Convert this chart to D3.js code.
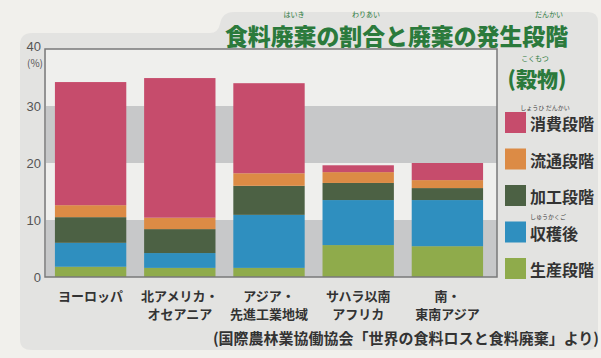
<!DOCTYPE html>
<html>
<head>
<meta charset="utf-8">
<script src="https://cdn.jsdelivr.net/npm/d3@7"></script>
<style>
  body { margin: 0; background: #f1f0ec; }
  svg { display: block; font-family: "Noto Sans CJK JP", "Noto Sans", sans-serif; }
</style>
</head>
<body>
<svg id="chart" width="601" height="358"></svg>
<script>
// 地域（2行ラベル）
var regions = [
  ["ヨーロッパ"],
  ["北アメリカ・", "オセアニア"],
  ["アジア・", "先進工業地域"],
  ["サハラ以南", "アフリカ"],
  ["南・", "東南アジア"]
];
// 段階（下から積む順）
var stages = ["生産段階", "収穫後", "加工段階", "流通段階", "消費段階"];
// 各段階の廃棄割合(%)
var production   = [1.8, 1.6, 1.6, 5.6, 5.4];
var postHarvest  = [4.2, 2.6, 9.3, 7.9, 8.1];
var processing   = [4.5, 4.2, 5.1, 3.0, 2.1];
var distribution = [2.1, 2.0, 2.2, 1.9, 1.4];
var consumption  = [21.6, 24.5, 15.8, 1.2, 3.0];
var yTicks = [0, 10, 20, 30, 40];

var stageColors = ["#8fab4b", "#2f8fbf", "#4c6144", "#dc8b45", "#c64c6c"];

var table = regions.map(function(r, i){
  return {
    key: i,
    "生産段階": production[i],
    "収穫後": postHarvest[i],
    "加工段階": processing[i],
    "流通段階": distribution[i],
    "消費段階": consumption[i]
  };
});

var svg = d3.select('#chart');
var margin = {top: 49, left: 46, bottom: 277, right: 497};

// 背景パネル（タイトルのタブ付き）
svg.append("path")
    .attr("d", "M20,340 L20,45 Q20,33 32,33 L210,33 Q218,33 220,24 Q222,12 234,12 L588,12 Q598,12 598,22 L598,340 Q598,350 588,350 L32,350 Q20,350 20,340 Z")
    .attr("fill", "#e3e3e1");

var x_scale = d3.scaleBand()
    .domain(d3.range(regions.length))
    .range([margin.left, 492])
    .paddingInner(0.2)
    .paddingOuter(0.1);

var y_scale = d3.scaleLinear()
    .domain([0, 40])
    .range([margin.bottom, margin.top]);

// 10%ごとの縞
svg.append("g").selectAll("rect")
    .data(d3.pairs(yTicks))
    .enter().append("rect")
    .attr("x", margin.left)
    .attr("width", margin.right - margin.left)
    .attr("y", function(d){ return y_scale(d[1]); })
    .attr("height", function(d){ return y_scale(d[0]) - y_scale(d[1]); })
    .attr("fill", function(d, i){ return i % 2 == 0 ? "#c7c8c9" : "#efefed"; });

var series = d3.stack().keys(stages)(table);

svg.append("g").selectAll("g")
    .data(series)
    .enter().append("g")
    .attr("fill", function(d, i){ return stageColors[i]; })
    .selectAll("rect")
    .data(function(d){ return d; })
    .enter().append("rect")
    .attr("x", function(d){ return x_scale(d.data.key); })
    .attr("width", x_scale.bandwidth())
    .attr("y", function(d){ return y_scale(d[1]); })
    .attr("height", function(d){ return y_scale(d[0]) - y_scale(d[1]); });

// 枠
svg.append("path")
    .attr("d", "M" + (margin.left - 1) + "," + margin.bottom + "V" + margin.top + "H" + margin.right + "V" + margin.bottom + "Z")
    .attr("fill", "none")
    .attr("stroke", "#7a7a7a")
    .attr("stroke-width", 1.5);

// 縦軸
var yAxis = svg.append("g")
    .attr("transform", "translate(" + (margin.left - 2) + ",0)")
    .call(d3.axisLeft(y_scale).tickValues(yTicks).tickSize(0).tickPadding(3));
yAxis.select(".domain").remove();
yAxis.selectAll("text")
    .attr("fill", "#555")
    .attr("font-size", 13)
    .attr("font-family", "'Liberation Sans Narrow', 'Liberation Sans', sans-serif");
// 40 は単位と重ならないよう少し上へ
yAxis.selectAll(".tick").filter(function(d){ return d == 40; })
    .select("text").attr("dy", "0.1em");

svg.append("text")
    .attr("x", margin.left - 3)
    .attr("y", 67)
    .attr("text-anchor", "end")
    .attr("fill", "#555")
    .attr("font-size", 10)
    .text("(%)");

// 横軸ラベル
var xl = svg.append("g").selectAll("text")
    .data(regions)
    .enter().append("text")
    .attr("x", function(d, i){ return x_scale(i) + x_scale.bandwidth() / 2; })
    .attr("y", 301)
    .attr("text-anchor", "middle")
    .attr("fill", "#333")
    .attr("font-size", 13)
    .attr("font-weight", 700);
xl.selectAll("tspan")
    .data(function(d){ return d; })
    .enter().append("tspan")
    .attr("x", function(){ return d3.select(this.parentNode).attr("x"); })
    .attr("dy", function(d, i){ return i == 0 ? 0 : 18; })
    .text(function(d){ return d; });

// 凡例（上から消費段階）
var legendItems = stages.slice().reverse();
var legend = svg.append("g").selectAll("g")
    .data(legendItems)
    .enter().append("g")
    .attr("transform", function(d, i){ return "translate(505," + (112 + i * 36.5) + ")"; });
legend.append("rect")
    .attr("width", 21)
    .attr("height", 21)
    .attr("fill", function(d){ return stageColors[stages.indexOf(d)]; });
legend.append("text")
    .attr("x", 25)
    .attr("y", 11)
    .attr("dominant-baseline", "central")
    .attr("fill", "#333")
    .attr("font-size", 16)
    .attr("font-weight", 700)
    .text(function(d){ return d; });

// 凡例のふりがな
svg.append("text").attr("x", 545).attr("y", 110).attr("font-size", 6).attr("fill", "#444")
    .attr("text-anchor", "middle").text("しょうひ  だんかい");
svg.append("text").attr("x", 548).attr("y", 219).attr("font-size", 6).attr("fill", "#444")
    .attr("text-anchor", "middle").text("しゅうかくご");

// タイトル
svg.append("text")
    .attr("x", 225)
    .attr("y", 35)
    .attr("dominant-baseline", "central")
    .attr("fill", "#2b7a3c")
    .attr("font-size", 23)
    .attr("font-weight", 900)
    .attr("textLength", 343)
    .attr("lengthAdjust", "spacingAndGlyphs")
    .text("食料廃棄の割合と廃棄の発生段階");

var ruby = [["はいき", 294], ["わりあい", 366], ["だんかい", 549]];
svg.append("g").selectAll("text")
    .data(ruby)
    .enter().append("text")
    .attr("x", function(d){ return d[1]; })
    .attr("y", 17)
    .attr("text-anchor", "middle")
    .attr("fill", "#2b7a3c")
    .attr("font-size", 7)
    .text(function(d){ return d[0]; });

svg.append("text")
    .attr("x", 537)
    .attr("y", 78)
    .attr("text-anchor", "middle")
    .attr("dominant-baseline", "central")
    .attr("fill", "#2b7a3c")
    .attr("font-size", 21)
    .attr("font-weight", 900)
    .text("(穀物)");
svg.append("text")
    .attr("x", 535)
    .attr("y", 61)
    .attr("text-anchor", "middle")
    .attr("fill", "#2b7a3c")
    .attr("font-size", 7)
    .text("こくもつ");

// 出典
svg.append("text")
    .attr("x", 599)
    .attr("y", 337)
    .attr("text-anchor", "end")
    .attr("dominant-baseline", "central")
    .attr("fill", "#333")
    .attr("font-size", 15)
    .attr("font-weight", 700)
    .text("(国際農林業協働協会「世界の食料ロスと食料廃棄」より)");
</script>
</body>
</html>
